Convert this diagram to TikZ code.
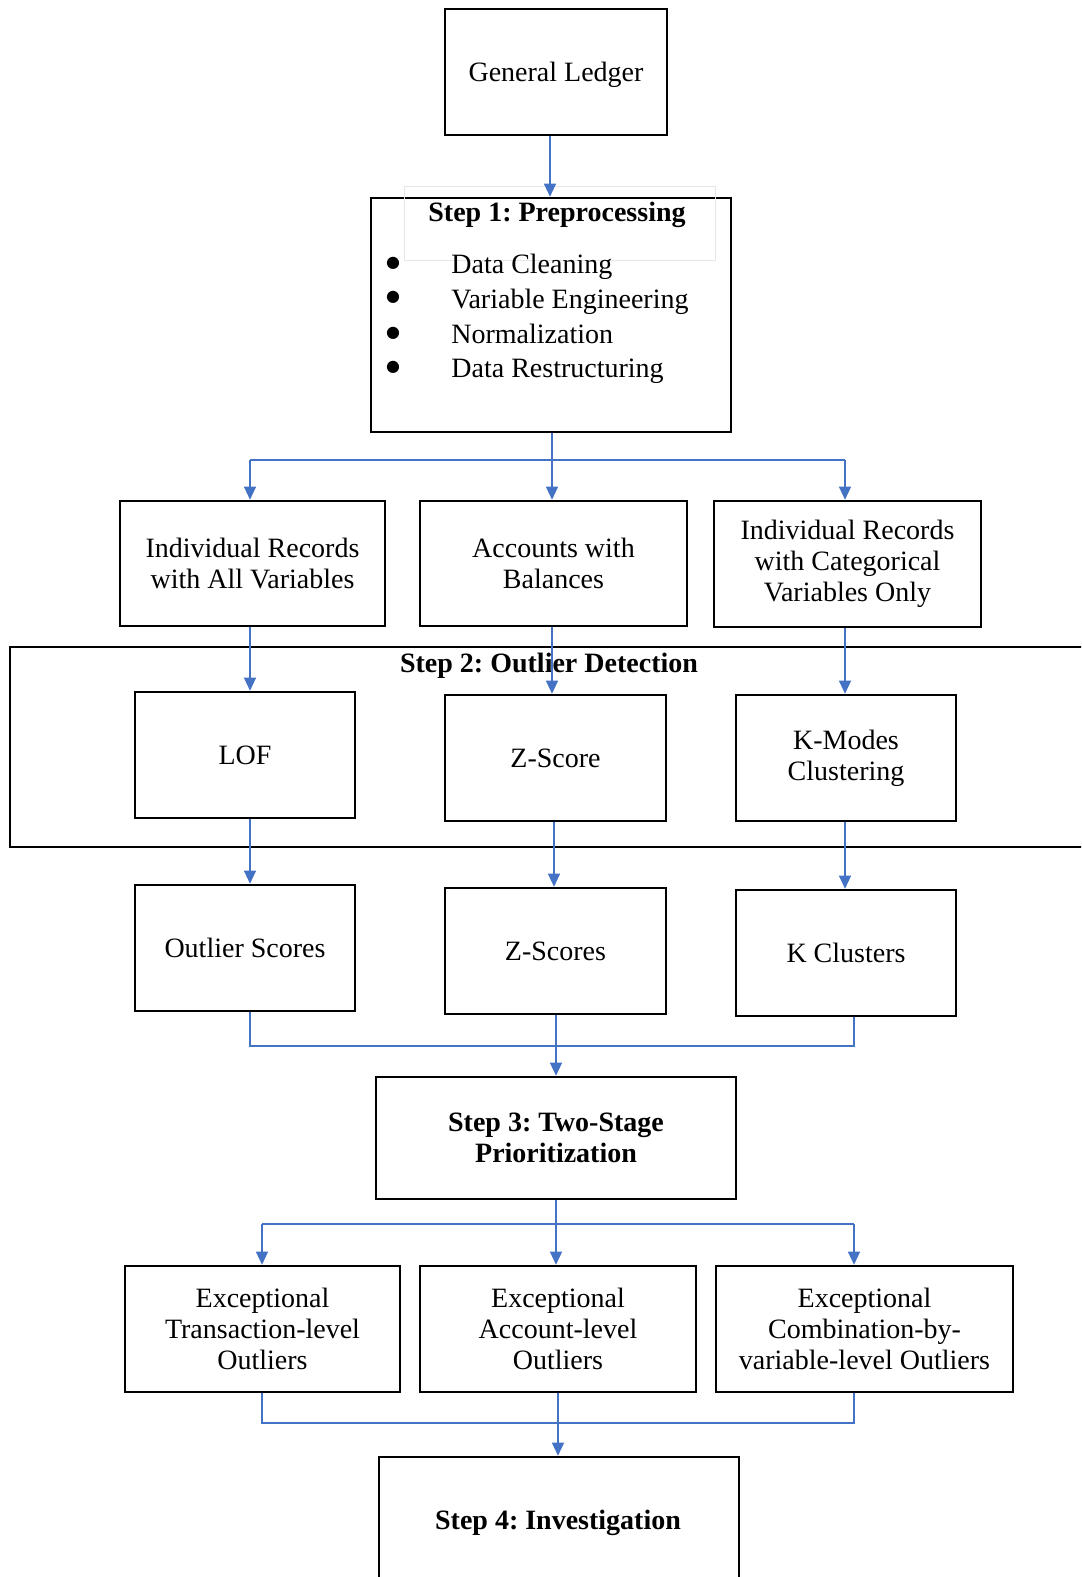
\documentclass[tikz,border=0pt]{standalone}
\usepackage{fontspec}
\setmainfont{Liberation Serif}
\newfontfamily\symfont{DejaVu Sans}
\usetikzlibrary{arrows.meta}
\definecolor{conblue}{HTML}{4472C4}
\definecolor{faintgray}{HTML}{E6E6E6}
\frenchspacing
\tikzset{
  box/.style={draw=black, line width=1.3pt, rectangle, inner sep=0pt, align=center,
    font=\fontsize{14}{15.6}\selectfont},
  con/.style={draw=conblue, line width=0.6pt},
  arr/.style={con, -{Triangle[width=6pt,length=6.5pt]}},
  txt/.style={inner sep=0pt, font=\fontsize{14}{15.6}\selectfont},
  bul/.style={inner sep=0pt, font=\symfont\fontsize{8}{8}\selectfont},
  btxt/.style={inner sep=0pt, align=center, text depth=0pt, font=\fontsize{14}{15.6}\selectfont\bfseries},
}
\begin{document}
\frenchspacing
\begin{tikzpicture}[x=0.5pt,y=-0.5pt]
\clip (0,0) rectangle (1081,1577);
\fill[white] (0,0) rectangle (1081,1577);

% Top
\node[box, text depth=0pt, minimum width=111pt, minimum height=63pt] (gl) at (556,72) {General Ledger};
\node[box, minimum width=180pt, minimum height=117pt] (s1) at (551,315) {};
\node[draw=faintgray, line width=0.4pt, minimum width=155.5pt, minimum height=37pt, inner sep=0pt] (s1tb) at (559.5,223) {};
\node[btxt] (s1title) at (557,212) {Step 1: Preprocessing};
\foreach \y/\t [count=\i] in {263.5/Data Cleaning,297.7/Variable Engineering,332.9/Normalization,367/Data Restructuring}{
  \node[bul] (bul\i) at (393,\y) {●};
  \node[txt, anchor=base west] (item\i) at (451,\y+10.5) {\t};
}

% Row 2
\node[box, minimum width=132.5pt, minimum height=62.5pt] (r2a) at (252.5,563.5) {Individual Records\\with All Variables};
\node[box, minimum width=133.5pt, minimum height=62.5pt] (r2b) at (553.5,563.5) {Accounts with\\Balances};
\node[box, minimum width=133.5pt, minimum height=63pt] (r2c) at (847.5,564) {Individual Records\\with Categorical\\Variables Only};

% Step 2 frame
\node[box, minimum width=542.5pt, minimum height=100pt] (s2) at (552.5,747) {};
\node[btxt] (s2title) at (549,663) {Step 2: Outlier Detection};

% Row 3
\node[box, minimum width=110pt, minimum height=63pt] (lof) at (245,755) {LOF};
\node[box, minimum width=110.5pt, minimum height=63pt] (zs) at (555.5,758) {Z-Score};
\node[box, minimum width=110pt, minimum height=63pt] (km) at (846,758) {K-Modes\\Clustering};

% Row 4
\node[box, minimum width=110pt, minimum height=63pt] (os) at (245,948) {Outlier Scores};
\node[box, minimum width=110.5pt, minimum height=63pt] (zss) at (555.5,951) {Z-Scores};
\node[box, minimum width=110pt, minimum height=63pt] (kc) at (846,953) {K Clusters};

% Step 3
\node[box, minimum width=180pt, minimum height=61pt] (s3) at (556,1138) {\bfseries Step 3: Two-Stage\\\bfseries Prioritization};

% Row 5
\node[box, minimum width=137.5pt, minimum height=63pt] (r5a) at (262.5,1329) {Exceptional\\Transaction-level\\Outliers};
\node[box, minimum width=138pt, minimum height=63pt] (r5b) at (558,1329) {Exceptional\\Account-level\\Outliers};
\node[box, minimum width=148.5pt, minimum height=63pt] (r5c) at (864.5,1329) {Exceptional\\Combination-by-\\variable-level Outliers};

% Step 4
\node[box, minimum width=180pt, minimum height=71.5pt] (s4) at (559,1528.5) {};
\node[btxt] (s4title) at (558,1520) {Step 4: Investigation};

% Connectors
\coordinate (j1) at (552,460);
\coordinate (j1l) at (250,460);
\coordinate (j1r) at (845,460);
\coordinate (c0) at (550,160);
\draw[arr] (c0 |- gl.south) -- (c0 |- s1.north);
\draw[con] (j1 |- s1.south) -- (j1);
\draw[con] (j1l) -- (j1r);
\draw[arr] (j1l) -- (j1l |- r2a.north);
\draw[arr] (j1) -- (j1 |- r2b.north);
\draw[arr] (j1r) -- (j1r |- r2c.north);

\draw[arr] (j1l |- r2a.south) -- (j1l |- lof.north);
\draw[arr] (j1 |- r2b.south) -- (j1 |- zs.north);
\draw[arr] (j1r |- r2c.south) -- (j1r |- km.north);

\coordinate (c4) at (554,900);
\draw[arr] (j1l |- lof.south) -- (j1l |- os.north);
\draw[arr] (c4 |- zs.south) -- (c4 |- zss.north);
\draw[arr] (j1r |- km.south) -- (j1r |- kc.north);

\coordinate (j2l) at (250,1046);
\coordinate (j2) at (556,1046);
\coordinate (j2r) at (854,1046);
\draw[con] (j2l |- os.south) -- (j2l) -- (j2r) -- (j2r |- kc.south);
\draw[arr] (j2 |- zss.south) -- (j2 |- s3.north);

\coordinate (j3l) at (262,1224);
\coordinate (j3) at (556,1224);
\coordinate (j3r) at (854,1224);
\draw[con] (j3 |- s3.south) -- (j3);
\draw[con] (j3l) -- (j3r);
\draw[arr] (j3l) -- (j3l |- r5a.north);
\draw[arr] (j3) -- (j3 |- r5b.north);
\draw[arr] (j3r) -- (j3r |- r5c.north);

\coordinate (j4l) at (262,1423);
\coordinate (j4) at (558,1423);
\coordinate (j4r) at (854,1423);
\draw[con] (j4l |- r5a.south) -- (j4l) -- (j4r) -- (j4r |- r5c.south);
\draw[arr] (j4 |- r5b.south) -- (j4 |- s4.north);
\end{tikzpicture}
\end{document}
